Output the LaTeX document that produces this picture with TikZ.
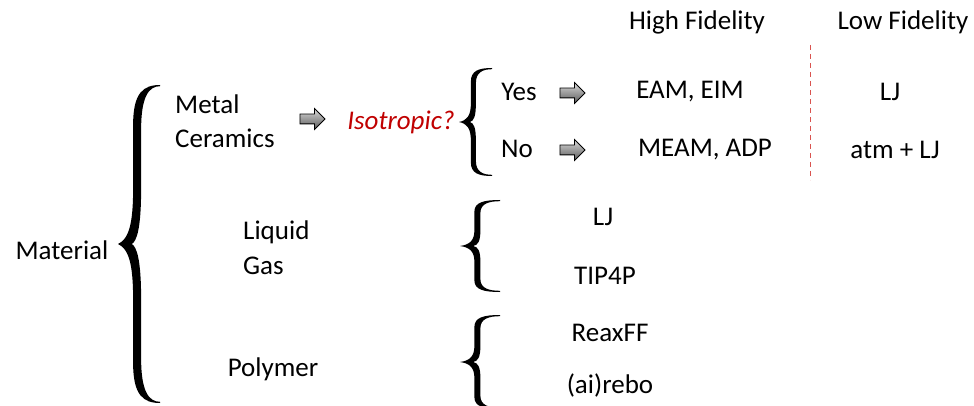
\documentclass[tikz,border=0pt]{standalone}
\usepackage{fontspec}
\setmainfont{Carlito}
\usetikzlibrary{shapes.arrows}
\definecolor{isored}{HTML}{C00000}
\definecolor{dashred}{HTML}{D9534F}
\tikzset{
  lbl/.style={inner sep=0pt, font=\fontsize{27}{32}\selectfont},
  cue/.style={shape=single arrow, draw=black, line width=0.8pt,
    top color=gray!30, bottom color=black!65,
    minimum height=25pt, minimum width=20pt,
    single arrow head extend=5.5pt, inner sep=4.5pt},
  % filled curly brace, tip at the origin, opening to the right
  pics/curly/.style n args={3}{code={
    \fill[black]
      (0,0) .. controls ({0.25*#1},{0.03*#2}) and ({0.36*#1},{0.12*#2}) .. ({0.36*#1},{0.35*#2})
      -- ({0.36*#1},{0.75*#2}) .. controls ({0.36*#1},{0.95*#2}) and ({0.6*#1},{#2}) .. ({#1},{#2})
      -- ({#1},{#2-1.2}) .. controls ({0.72*#1},{#2-1.2}) and ({0.36*#1+#3},{0.92*#2}) .. ({0.36*#1+#3},{0.72*#2})
      -- ({0.36*#1+#3},{0.35*#2}) .. controls ({0.36*#1+#3},{0.1*#2}) and ({0.45*#1},{0.02*#2}) .. ({0.33*#1},0)
      .. controls ({0.45*#1},{-0.02*#2}) and ({0.36*#1+#3},{-0.1*#2}) .. ({0.36*#1+#3},{-0.35*#2})
      -- ({0.36*#1+#3},{-0.72*#2}) .. controls ({0.36*#1+#3},{-0.92*#2}) and ({0.72*#1},{-#2+1.2}) .. ({#1},{-#2+1.2})
      -- ({#1},{-#2}) .. controls ({0.6*#1},{-#2}) and ({0.36*#1},{-0.95*#2}) .. ({0.36*#1},{-0.75*#2})
      -- ({0.36*#1},{-0.35*#2}) .. controls ({0.36*#1},{-0.12*#2}) and ({0.25*#1},{-0.03*#2}) .. (0,0)
      -- cycle;
  }}
}
\begin{document}
\begin{tikzpicture}[x=1pt,y=-1pt]
\useasboundingbox (0,0) rectangle (974,406);

% column headings
\node[lbl] (hf) at (697,22) {High Fidelity};
\node[lbl] (lf) at (903,22) {Low Fidelity};
\coordinate (sepTop) at (810,45);
\coordinate (sepBot) at (810,180);
\draw[dashred, line width=0.9pt, dash pattern=on 5pt off 4pt] (sepTop) -- (sepBot);

% root
\node[lbl] (mat) at (62,250) {Material};
\pic at (118,244) {curly={42}{159}{8}};

% metals and ceramics
\node[lbl, anchor=west] (metal) at (175,104) {Metal};
\node[lbl, anchor=west] (ceram) at (175,138) {Ceramics};
\node[cue] (a1) at (310,119) {};
\node[lbl, text=isored, font=\fontsize{27}{32}\selectfont\itshape] (iso) at (401,122) {Isotropic?};
\pic at (459,122) {curly={33}{54}{5}};
\node[lbl] (yes) at (519,92) {Yes};
\node[lbl] (no) at (517,149) {No};
\node[cue] (a2) at (570,93) {};
\node[cue] (a3) at (570,150) {};
\node[lbl] (eam) at (690,92) {EAM, EIM};
\node[lbl] (meam) at (705,150) {MEAM, ADP};
\node[lbl] (lj1) at (890,92) {LJ};
\node[lbl] (atm) at (895,150) {atm + LJ};

% liquids and gases
\node[lbl, anchor=west] (liq) at (243,232) {Liquid};
\node[lbl, anchor=west] (gas) at (243,266) {Gas};
\pic at (460,246) {curly={40}{46}{6}};
\node[lbl] (lj2) at (603,217) {LJ};
\node[lbl] (tip) at (605,276) {TIP4P};

% polymers
\node[lbl] (poly) at (273,369) {Polymer};
\pic at (460,362) {curly={40}{47}{6}};
\node[lbl] (reax) at (610,333) {ReaxFF};
\node[lbl] (rebo) at (610,385) {(ai)rebo};
\end{tikzpicture}
\end{document}
